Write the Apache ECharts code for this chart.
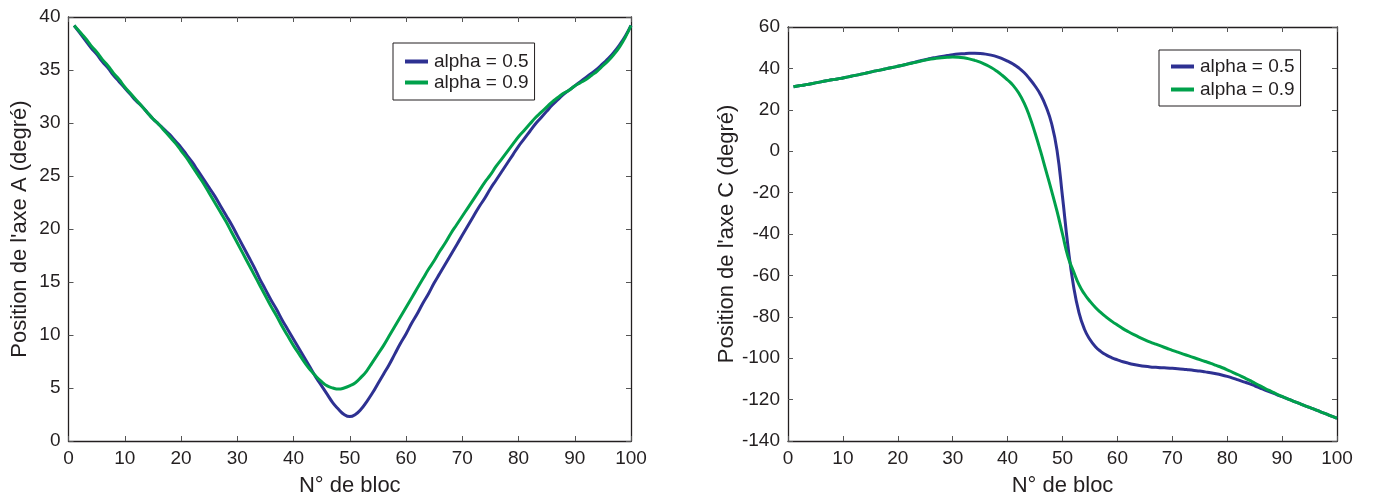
<!DOCTYPE html>
<html>
<head>
<meta charset="utf-8">
<script src="https://cdn.jsdelivr.net/npm/echarts@6/dist/echarts.min.js"></script>
<style>
html,body{margin:0;padding:0;background:#fff;}
#chart{width:1373px;height:502px;}
</style>
</head>
<body>
<div id="chart"></div>
<script>
// ---- Data ----
const seriesNames = ['alpha = 0.5', 'alpha = 0.9'];

// Block numbers 1..100 (both charts)
const blocks = [1,2,3,4,5,6,7,8,9,10,11,12,13,14,15,16,17,18,19,20,21,22,23,24,25,26,27,28,29,30,31,32,33,34,35,36,37,38,39,40,41,42,43,44,45,46,47,48,49,50,51,52,53,54,55,56,57,58,59,60,61,62,63,64,65,66,67,68,69,70,71,72,73,74,75,76,77,78,79,80,81,82,83,84,85,86,87,88,89,90,91,92,93,94,95,96,97,98,99,100];

// Left chart: position of axis A (degrees)
const posA_alpha05 = [39.2,38.5,37.8,37.1,36.5,35.8,35.2,34.5,33.9,33.3,
  32.7,32.1,31.6,31.0,30.4,29.9,29.4,28.9,28.3,27.7,
  27.0,26.3,25.5,24.7,23.9,23.1,22.2,21.3,20.4,19.4,
  18.4,17.4,16.4,15.3,14.3,13.3,12.4,11.4,10.5,9.6,
  8.7,7.8,6.9,6.0,5.2,4.4,3.6,3.0,2.5,2.3,
  2.5,3.0,3.7,4.5,5.4,6.3,7.2,8.2,9.2,10.1,
  11.1,12.0,13.0,13.9,14.9,15.8,16.7,17.6,18.5,19.4,
  20.3,21.2,22.1,22.9,23.8,24.6,25.4,26.2,27.0,27.8,
  28.5,29.2,29.9,30.5,31.1,31.7,32.2,32.7,33.1,33.5,
  33.9,34.3,34.7,35.1,35.6,36.1,36.7,37.4,38.2,39.2];
const posA_alpha09 = [39.2,38.6,38.0,37.3,36.7,36.0,35.4,34.7,34.1,33.4,
  32.8,32.2,31.6,31.0,30.4,29.9,29.3,28.7,28.1,27.4,
  26.7,25.9,25.1,24.3,23.4,22.5,21.6,20.7,19.7,18.7,
  17.7,16.7,15.7,14.7,13.7,12.7,11.8,10.8,9.9,9.0,
  8.2,7.4,6.7,6.1,5.6,5.2,5.0,4.9,5.0,5.2,
  5.5,6.0,6.6,7.4,8.2,9.0,9.9,10.8,11.7,12.6,
  13.5,14.4,15.3,16.2,17.0,17.9,18.7,19.6,20.4,21.2,
  22.0,22.8,23.6,24.4,25.1,25.9,26.6,27.3,28.0,28.7,
  29.3,29.9,30.5,31.0,31.5,32.0,32.4,32.8,33.1,33.5,
  33.8,34.1,34.5,34.9,35.4,35.9,36.5,37.2,38.1,39.2];

// Right chart: position of axis C (degrees)
const posC_alpha05 = [31.1,31.6,32.0,32.5,33.0,33.5,34.0,34.5,34.9,35.4,
  35.9,36.5,37.0,37.6,38.2,38.8,39.3,39.9,40.4,41.0,
  41.6,42.3,42.9,43.6,44.2,44.8,45.3,45.8,46.2,46.6,
  46.9,47.1,47.3,47.3,47.2,46.9,46.4,45.7,44.7,43.5,
  42.1,40.3,38.0,35.0,31.5,27.3,21.5,13.5,0.5,-22.0,
  -46.0,-65.0,-78.0,-86.0,-91.0,-94.5,-96.8,-98.5,-99.8,-100.8,
  -101.7,-102.4,-103.0,-103.5,-103.9,-104.2,-104.4,-104.6,-104.7,-104.9,
  -105.1,-105.3,-105.6,-105.9,-106.2,-106.6,-107.0,-107.5,-108.1,-108.8,
  -109.6,-110.5,-111.4,-112.3,-113.3,-114.4,-115.5,-116.5,-117.6,-118.6,
  -119.6,-120.7,-121.7,-122.8,-123.8,-124.8,-125.9,-126.9,-128.0,-129.0];
const posC_alpha09 = [31.1,31.6,32.0,32.5,33.0,33.5,34.0,34.5,34.9,35.4,
  35.9,36.5,37.0,37.6,38.2,38.8,39.3,39.9,40.4,41.0,
  41.6,42.2,42.8,43.4,44.0,44.5,44.9,45.2,45.4,45.5,
  45.4,45.1,44.6,43.9,43.0,41.8,40.4,38.7,36.7,34.4,
  31.8,28.2,23.3,16.8,8.8,0.0,-9.5,-19.0,-29.0,-40.0,
  -51.0,-58.0,-64.5,-69.0,-72.5,-75.5,-78.0,-80.2,-82.2,-84.0,
  -85.7,-87.2,-88.6,-89.9,-91.1,-92.2,-93.2,-94.2,-95.2,-96.2,
  -97.1,-98.0,-98.9,-99.8,-100.7,-101.6,-102.5,-103.5,-104.5,-105.6,
  -106.8,-108.0,-109.3,-110.6,-112.0,-113.4,-114.8,-116.0,-117.3,-118.5,
  -119.6,-120.7,-121.7,-122.8,-123.8,-124.8,-125.9,-126.9,-128.0,-129.0];

const xTitle = 'N° de bloc';
const yTitleA = "Position de l'axe A (degré)";
const yTitleC = "Position de l'axe C (degré)";

// ---- Styling ----
const FONT = '"Liberation Sans", Arial, Helvetica, sans-serif';
const INK = '#231f20';
const BLUE = '#2e3192';
const GREEN = '#00a14b';

function pairs(xs, ys){ return xs.map((x,i)=>[x, ys[i]]); }

function xAx(grid, top){
  return {
    type:'value', gridIndex:grid, position: top ? 'top' : 'bottom',
    min:0, max:100, interval:10,
    name: top ? '' : xTitle, nameLocation:'middle', nameGap:34,
    nameTextStyle:{fontFamily:FONT, fontSize:22, color:INK},
    axisLine:{show:true, onZero:false, lineStyle:{color:INK, width:1.3}},
    axisTick:{show:true, inside:true, length:5, lineStyle:{color:'#555', width:1}},
    axisLabel:{show:!top, margin:8, fontFamily:FONT, fontSize:19, color:INK},
    splitLine:{show:false}
  };
}
function yAx(grid, right, min, max, interval, title, gap){
  return {
    type:'value', gridIndex:grid, position: right ? 'right' : 'left',
    min:min, max:max, interval:interval,
    name: right ? '' : title, nameLocation:'middle', nameGap:gap,
    nameTextStyle:{fontFamily:FONT, fontSize:22, color:INK},
    axisLine:{show:true, onZero:false, lineStyle:{color:INK, width:1.3}},
    axisTick:{show:true, inside:true, length:5, lineStyle:{color:'#555', width:1}},
    axisLabel:{show:!right, margin:8, fontFamily:FONT, fontSize:19, color:INK},
    splitLine:{show:false}
  };
}
function line(name, color, data, xi, yi){
  return {
    name:name, type:'line', xAxisIndex:xi, yAxisIndex:yi,
    data:data, showSymbol:false, smooth:0.5,
    lineStyle:{color:color, width:3}, itemStyle:{color:color},
    emphasis:{disabled:true}, animation:false
  };
}
function legend(left, top, padding, gap){
  return {
    data:seriesNames.map(n=>({name:n, icon:'rect'})),
    orient:'vertical', left:left, top:top,
    padding:padding, itemGap:gap, itemWidth:23, itemHeight:4,
    borderColor:INK, borderWidth:1, backgroundColor:'#fff',
    textStyle:{fontFamily:FONT, fontSize:19, color:INK, lineHeight:21, padding:[0,0,0,1]},
    selectedMode:false
  };
}

const chart = echarts.init(document.getElementById('chart'), null, {renderer:'canvas'});
chart.setOption({
  animation:false,
  backgroundColor:'#fff',
  grid:[
    {left:68.5, right:742, top:17, bottom:61},
    {left:788, right:36, top:27, bottom:61}
  ],
  xAxis:[xAx(0,false), xAx(0,true), xAx(1,false), xAx(1,true)],
  yAxis:[
    yAx(0,false,0,40,5,yTitleA,38), yAx(0,true,0,40,5,'',0),
    yAx(1,false,-140,60,20,yTitleC,46), yAx(1,true,-140,60,20,'',0)
  ],
  legend:[
    legend(393, 43, [8,6,7,12], 0),
    legend(1159, 50, [6,6,6,12], 2)
  ],
  series:[
    line(seriesNames[0], BLUE, pairs(blocks, posA_alpha05), 0, 0),
    line(seriesNames[1], GREEN, pairs(blocks, posA_alpha09), 0, 0),
    line(seriesNames[0], BLUE, pairs(blocks, posC_alpha05), 2, 2),
    line(seriesNames[1], GREEN, pairs(blocks, posC_alpha09), 2, 2)
  ]
});
</script>
</body>
</html>
